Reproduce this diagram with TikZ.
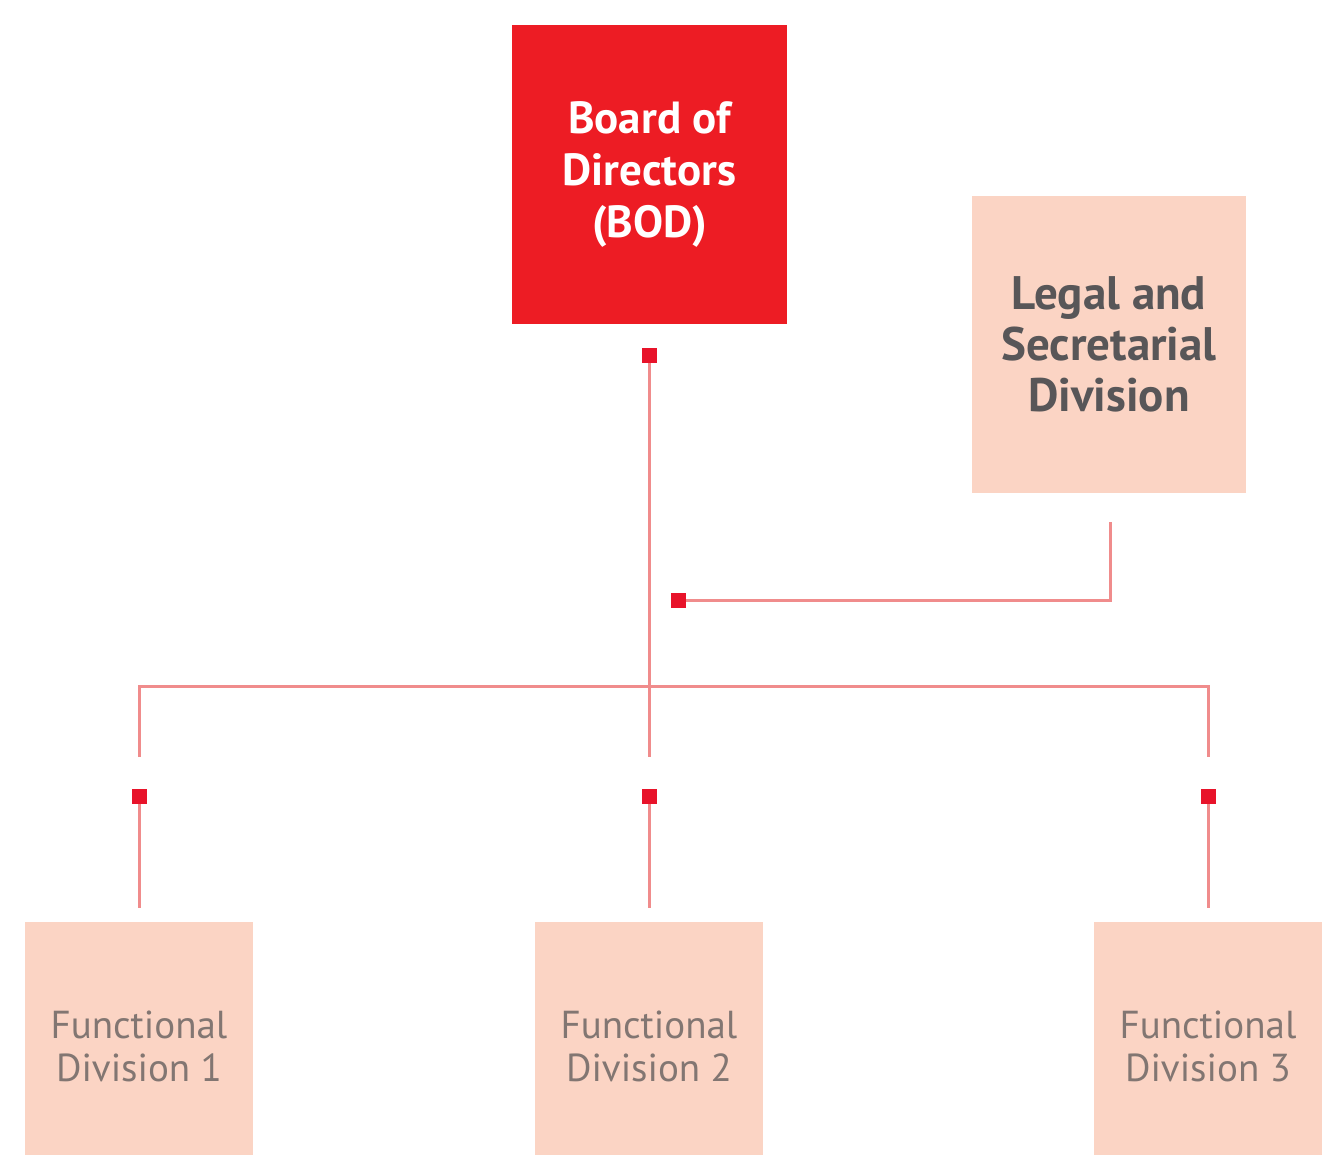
\documentclass[tikz,border=0pt]{standalone}
\usepackage{fontspec}
\setmainfont{PT Sans}
\definecolor{bodred}{RGB}{237,28,36}
\definecolor{peach}{RGB}{251,212,196}
\definecolor{linecol}{RGB}{240,140,140}
\definecolor{dotred}{RGB}{232,19,42}
\definecolor{darktxt}{RGB}{88,86,88}
\definecolor{greytxt}{RGB}{130,118,114}
\begin{document}
\begin{tikzpicture}[x=1pt,y=-1pt,
  bodbox/.style={fill=bodred,draw=none,minimum width=275pt,minimum height=299pt,inner sep=0pt,
    text=white,align=center,font=\fontsize{45}{52}\selectfont\bfseries},
  legalbox/.style={fill=peach,draw=none,minimum width=274pt,minimum height=297pt,inner sep=0pt,
    text=darktxt,align=center,font=\fontsize{47}{51}\selectfont\bfseries},
  fdbox/.style={fill=peach,draw=none,minimum width=228pt,minimum height=248pt,inner sep=0pt,
    text=greytxt,align=center,font=\fontsize{39}{43}\selectfont},
  sq/.style={fill=dotred,draw=none,minimum size=15pt,inner sep=0pt},
  conn/.style={draw=linecol,line width=3pt}]
\useasboundingbox (0,0) rectangle (1322,1155);
% boxes
\node[bodbox] (bod) at (649.5,174.5) {Board of\\Directors\\(BOD)};
\node[legalbox] (legal) at (1109,344.5) {Legal and\\Secretarial\\Division};
\node[fdbox] (fd1) at (139,1046) {Functional\\Division 1};
\node[fdbox] (fd2) at (649,1046) {Functional\\Division 2};
\node[fdbox] (fd3) at (1208,1046) {Functional\\Division 3};
% small squares
\node[sq] (s0) at (649,356) {};
\node[sq] (sl) at (678,600) {};
\node[sq] (s1) at (139,796) {};
\node[sq] (s2) at (649,796) {};
\node[sq] (s3) at (1208,796) {};
% free ends
\coordinate (t2) at (649,757);
\coordinate (h1) at (139,686);
\coordinate (h3) at (1208,686);
\coordinate (t1) at (139,757);
\coordinate (t3) at (1208,757);
\coordinate (b1) at (139,908);
\coordinate (b2) at (649,908);
\coordinate (b3) at (1208,908);
\coordinate (lt) at (1110,522);
% connectors
\draw[conn] (s0.center) -- (t2);
\draw[conn] (t1) -- (h1) -- (h3) -- (t3);
\draw[conn] (lt) |- (sl.center);
\draw[conn] (s1.center) -- (b1);
\draw[conn] (s2.center) -- (b2);
\draw[conn] (s3.center) -- (b3);
% redraw squares on top
\node[sq] at (s0) {};
\node[sq] at (sl) {};
\node[sq] at (s1) {};
\node[sq] at (s2) {};
\node[sq] at (s3) {};
\end{tikzpicture}
\end{document}
